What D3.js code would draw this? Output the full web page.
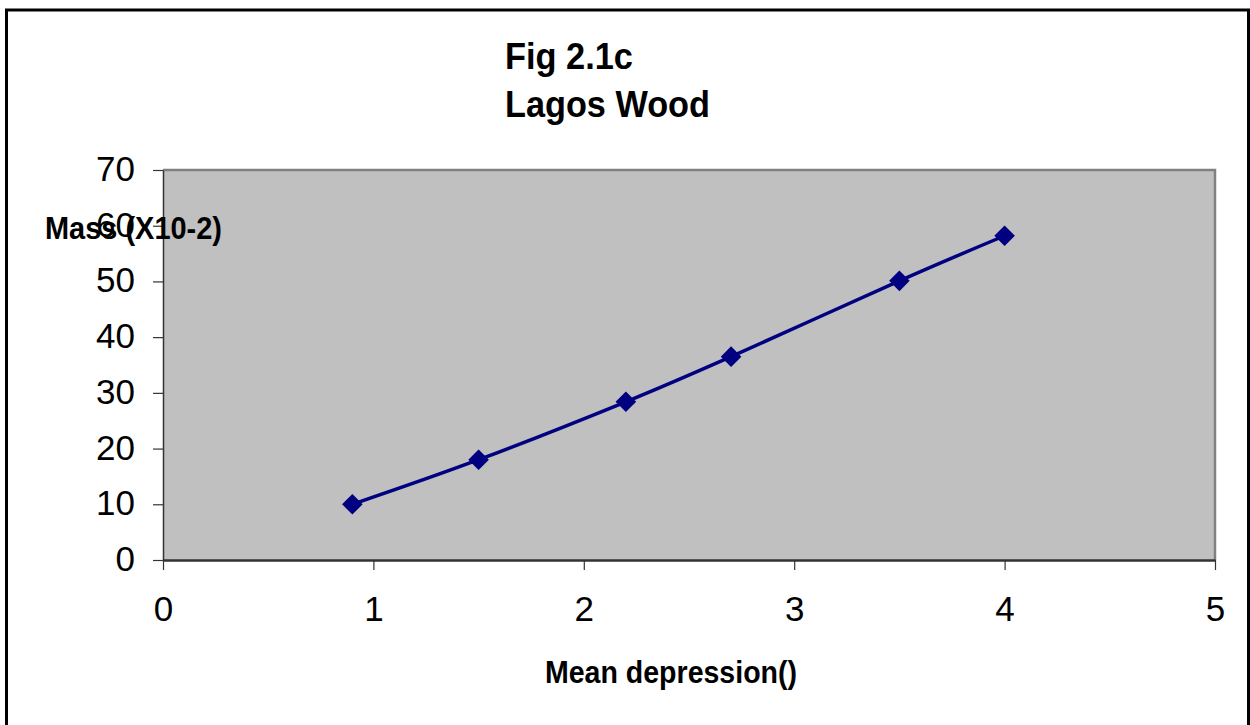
<!doctype html>
<html lang="en">
<head>
<meta charset="utf-8">
<title>Fig 2.1c Lagos Wood</title>
<script src="https://cdn.jsdelivr.net/npm/d3@7"></script>
<style>
  body { margin: 0; background: #ffffff; }
  text { font-family: "Liberation Sans", Arial, sans-serif; fill: #000000; }
</style>
</head>
<body>

<script>

// values
var depression = [0.9, 1.5, 2.2, 2.7, 3.5, 4.0];
var mass = [10, 18, 28.4, 36.5, 50.1, 58.2];

var xTicks = [0, 1, 2, 3, 4, 5];
var yTicks = [0, 10, 20, 30, 40, 50, 60, 70];

var width = 1250;
var height = 725;

var plot = { left: 163, top: 170, right: 1215, bottom: 560 };

var svg = d3.select("body").append("svg")
    .attr("width", width)
    .attr("height", height);

// outer frame
svg.append("rect")
    .attr("x", 6.5)
    .attr("y", 10)
    .attr("width", 1242)
    .attr("height", 740)
    .attr("fill", "none")
    .attr("stroke", "#000000")
    .attr("stroke-width", 3);

var x = d3.scaleLinear().domain([0, 5]).range([plot.left, plot.right]);
var y = d3.scaleLinear().domain([0, 70]).range([plot.bottom, plot.top]);

// plot area
svg.append("rect")
    .attr("x", plot.left)
    .attr("y", plot.top)
    .attr("width", plot.right - plot.left)
    .attr("height", plot.bottom - plot.top)
    .attr("fill", "#c0c0c0");

svg.append("path")
    .attr("d", "M" + plot.left + "," + plot.top + "H" + plot.right + "V" + plot.bottom)
    .attr("fill", "none")
    .attr("stroke", "#808080")
    .attr("stroke-width", 2.5);

// axes
var xAxis = svg.append("g")
    .attr("transform", "translate(0," + plot.bottom + ")")
    .call(d3.axisBottom(x).tickValues(xTicks).tickFormat(d3.format("d")).tickSize(10).tickSizeOuter(0));

xAxis.select(".domain").attr("stroke", "#333333").attr("stroke-width", 2.5);
xAxis.selectAll(".tick line").attr("stroke", "#333333").attr("stroke-width", 1.2);
xAxis.selectAll(".tick text")
    .attr("y", 61)
    .attr("dy", 0)
    .attr("font-size", 35)
    .attr("fill", "#000000");

var yAxis = svg.append("g")
    .attr("transform", "translate(" + plot.left + ",0)")
    .call(d3.axisLeft(y).tickValues(yTicks).tickFormat(d3.format("d")).tickSize(10).tickPadding(18).tickSizeOuter(0));

yAxis.select(".domain").attr("stroke", "#333333").attr("stroke-width", 1.5);
yAxis.selectAll(".tick line").attr("stroke", "#333333").attr("stroke-width", 1.2);
yAxis.selectAll(".tick text")
    .attr("dy", "0.3em")
    .attr("font-size", 35)
    .attr("fill", "#000000");
yAxis.selectAll("text").attr("font-family", null);
xAxis.selectAll("text").attr("font-family", null);

// series
var line = d3.line()
    .x(function(d, i) { return x(depression[i]); })
    .y(function(d) { return y(d); })
    .curve(d3.curveCatmullRom.alpha(0));

svg.append("path")
    .datum(mass)
    .attr("d", line)
    .attr("fill", "none")
    .attr("stroke", "#000080")
    .attr("stroke-width", 3.5);

svg.selectAll(".marker")
    .data(mass)
    .enter().append("path")
    .attr("class", "marker")
    .attr("d", d3.symbol().type(d3.symbolDiamond2).size(270))
    .attr("transform", function(d, i) { return "translate(" + x(depression[i]) + "," + y(d) + ")"; })
    .attr("fill", "#000080");

// titles
svg.append("text")
    .attr("x", 505)
    .attr("y", 69)
    .attr("font-size", 36)
    .attr("font-weight", "bold")
    .attr("textLength", 128)
    .attr("lengthAdjust", "spacingAndGlyphs")
    .text("Fig 2.1c");

svg.append("text")
    .attr("x", 505)
    .attr("y", 117)
    .attr("font-size", 36)
    .attr("font-weight", "bold")
    .attr("textLength", 205)
    .attr("lengthAdjust", "spacingAndGlyphs")
    .text("Lagos Wood");

svg.append("text")
    .attr("x", 545)
    .attr("y", 683)
    .attr("font-size", 31)
    .attr("font-weight", "bold")
    .attr("textLength", 252)
    .attr("lengthAdjust", "spacingAndGlyphs")
    .text("Mean depression()");

svg.append("text")
    .attr("x", 45)
    .attr("y", 239)
    .attr("font-size", 32)
    .attr("font-weight", "bold")
    .attr("textLength", 177)
    .attr("lengthAdjust", "spacingAndGlyphs")
    .text("Mass (X10-2)");

</script>

</body>
</html>
